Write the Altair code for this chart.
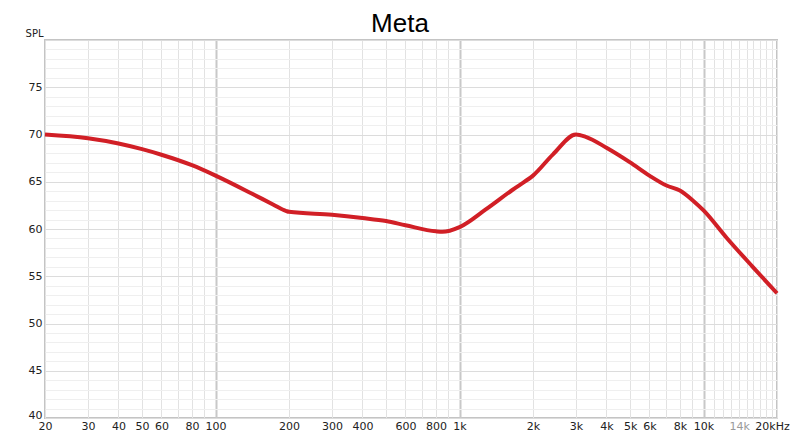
import pandas as pd
import altair as alt

# frequency response
freq = [20, 30, 40, 50, 60, 80, 100, 142, 172, 195, 200, 300, 400, 500, 600, 800, 850,
        1000, 1285, 1640, 1750, 2000, 2416, 3000, 3290, 4000, 5000, 6000, 7050,
        8000, 9060, 10000, 12500, 15900, 20000]
spl = [70.0, 69.6, 69.05, 68.45, 67.86, 66.75, 65.65, 63.7, 62.6, 61.9, 61.82, 61.5, 61.16,
       60.84, 60.4, 59.75, 59.7, 60.2, 62.1, 64.1, 64.6, 65.65, 67.9, 70.0, 69.75,
       68.6, 67.05, 65.65, 64.6, 64.07, 63.0, 61.97, 59.0, 56.0, 53.2]

x_grid = [20, 30, 40, 50, 60, 70, 80, 90,
          100, 200, 300, 400, 500, 600, 700, 800, 900,
          1000, 2000, 3000, 4000, 5000, 6000, 7000, 8000, 9000,
          10000, 11000, 12000, 13000, 14000, 15000, 16000, 17000, 18000, 19000, 20000]
x_labels = [20, 30, 40, 50, 60, 80, 100, 200, 300, 400, 600, 800,
            1000, 2000, 3000, 4000, 5000, 6000, 8000, 10000, 14000, 20000]
x_major = [100, 1000, 10000]

y_grid = list(range(40, 81))
y_labels = [40, 45, 50, 55, 60, 65, 70, 75]

df = pd.DataFrame({'freq': freq, 'spl': spl})

lbl_list = ','.join(str(v) for v in x_labels)
x_expr = ("datum.value == 20000 ? '20kHz' : "
          "(indexof([" + lbl_list + "], datum.value) >= 0 ? "
          "(datum.value >= 1000 ? (datum.value / 1000) + 'k' : datum.value) : '')")
is_major = 'indexof([' + ','.join(str(v) for v in x_major) + '], datum.value) >= 0'
y_expr = "indexof([" + ','.join(str(v) for v in y_labels) + "], datum.value) >= 0 ? datum.value : ''"

chart = alt.Chart(df).mark_line(
    color='#d11f26', strokeWidth=4, interpolate='monotone'
).encode(
    x=alt.X('freq:Q', title=None,
            scale=alt.Scale(type='log', domain=[20, 20000], nice=False),
            axis=alt.Axis(values=x_grid, labelExpr=x_expr, ticks=False, domain=False,
                          labelOverlap=False, labelFlush=False, labelPadding=2,
                          labelFont='DejaVu Sans', labelFontSize=11,
                          labelOffset=alt.condition('datum.value == 20000', alt.value(-5), alt.value(0)),
                          labelColor=alt.condition('datum.value == 14000', alt.value('#9a9a9a'), alt.value('#222222')),
                          gridColor=alt.condition(is_major, alt.value('#c8c8c8'), alt.value('#e2e2e2')),
                          gridWidth=alt.condition(is_major, alt.value(2), alt.value(1)))),
    y=alt.Y('spl:Q', title='SPL',
            scale=alt.Scale(domain=[40, 80], nice=False, zero=False),
            axis=alt.Axis(values=y_grid, labelExpr=y_expr, ticks=False, domain=False,
                          labelOverlap=False, labelPadding=3,
                          labelFont='DejaVu Sans', labelFontSize=11, labelColor='#222222',
                          labelOffset=alt.condition('datum.value == 40', alt.value(-3), alt.value(0)),
                          titleAngle=0, titleAlign='right', titleBaseline='middle',
                          titleX=-2, titleY=-7, titleFont='DejaVu Sans', titleFontSize=10,
                          titleFontWeight='normal', titleColor='#222222',
                          gridColor=alt.condition('datum.value % 5 == 0', alt.value('#dcdcdc'), alt.value('#efefef'))))
).properties(
    width=732,
    height=378,
    autosize=alt.AutoSizeParams(type='none'),
    padding={'left': 37, 'top': 32, 'right': 15, 'bottom': 14},
    title=alt.TitleParams('Meta', font='Liberation Sans', fontSize=26, fontWeight='normal',
                          color='#000000', anchor='middle', frame='group', dx=-11,
                          offset=13, dy=22),
).configure_view(
    stroke='#c4c4c4', strokeWidth=2
)

chart.save("out.html", embed_options={"renderer": "svg", "actions": False})
